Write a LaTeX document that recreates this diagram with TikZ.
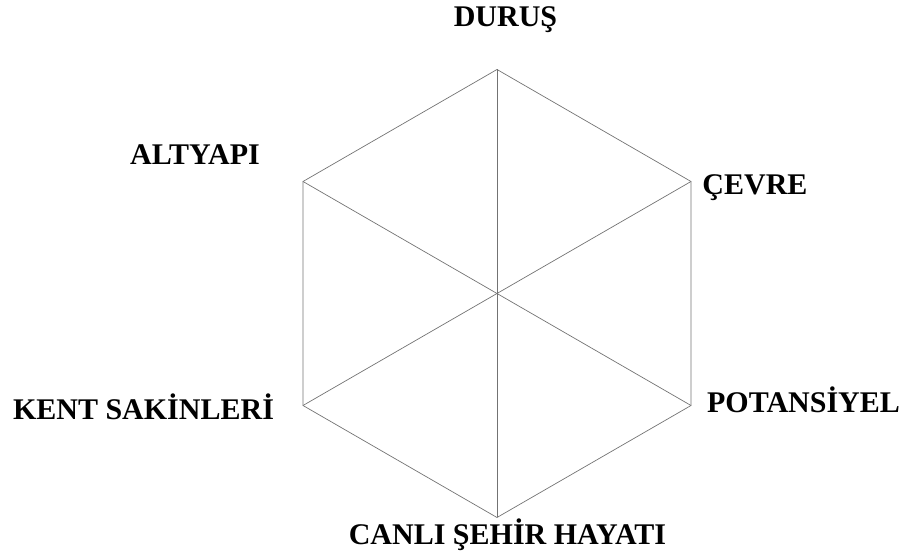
\documentclass[tikz,border=0pt]{standalone}
\usepackage{fontspec}
\setmainfont{Liberation Serif}
\begin{document}
\begin{tikzpicture}[x=1pt,y=1pt,
  edge/.style={draw=black!55,line width=0.7pt},
  lbl/.style={font=\fontsize{30}{36}\selectfont\bfseries,anchor=base,inner sep=0pt}]
\useasboundingbox (0,0) rectangle (906,557);
\coordinate (c) at (497,263.5);
\coordinate (t) at (497,487.5);
\coordinate (ur) at (691,375.5);
\coordinate (lr) at (691,151.5);
\coordinate (b) at (497,39.5);
\coordinate (ll) at (303,151.5);
\coordinate (ul) at (303,375.5);
\draw[edge] (t) -- (ur) -- (lr) -- (b) -- (ll) -- (ul) -- cycle;
\draw[edge] (t) -- (b);
\draw[edge] (ul) -- (lr);
\draw[edge] (ur) -- (ll);
\node[lbl] (duru) at (505.5,530) {DURUŞ};
\node[lbl] (alty) at (195,392) {ALTYAPI};
\node[lbl] (cevre) at (755,362) {ÇEVRE};
\node[lbl] (kent) at (143.5,137) {KENT SAKİNLERİ};
\node[lbl] (pot) at (803.5,144) {POTANSİYEL};
\node[lbl] (canli) at (507.5,12) {CANLI ŞEHİR HAYATI};
\end{tikzpicture}
\end{document}
